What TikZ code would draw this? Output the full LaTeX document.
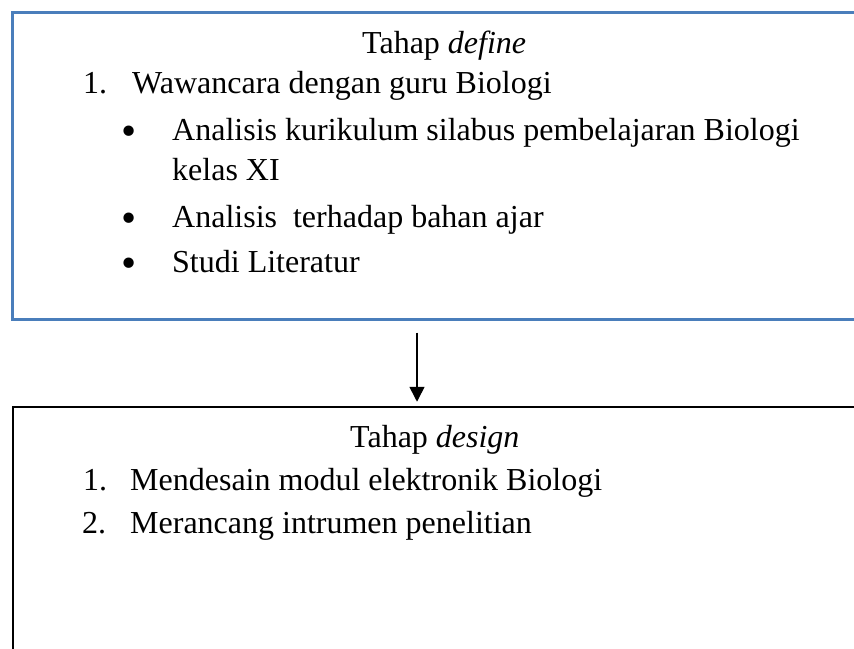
\documentclass[tikz,border=0pt]{standalone}
\usepackage{fontspec}
\setmainfont{Liberation Serif}
\usetikzlibrary{arrows.meta}
\definecolor{boxblue}{RGB}{74,126,187}
\newcommand{\bigbul}{\raisebox{-5.5pt}{\scalebox{1.35}{\textbullet}}}
\tikzset{
  stagebluebox/.style={draw=boxblue, line width=3pt, rectangle, inner sep=0pt},
  stageblackbox/.style={draw=black, line width=2.5pt, rectangle, inner sep=0pt},
  txt/.style={anchor=base west, inner sep=0pt, font=\fontsize{32}{40}\selectfont},
  flowarrow/.style={line width=1.6pt, -{Triangle[width=15pt,length=15pt]}}
}
\begin{document}
\begin{tikzpicture}[x=1pt,y=-1pt]
\clip (0,0) rectangle (854,648);
\fill[white] (0,0) rectangle (854,648);
% boxes
\node[stagebluebox, minimum width=868pt, minimum height=307pt] (define) at (446,165.5) {};
\node[stageblackbox, minimum width=846pt, minimum height=293pt] (design) at (436,553.5) {};
% define texts
\node[txt] (t1) at (362,53) {Tahap \textit{define}};
\node[txt] (n1) at (83,93) {1.};
\node[txt] (w1) at (132,93) {Wawancara dengan guru Biologi};
\node[txt] (b1) at (121,140) {\bigbul};
\node[txt] (a1) at (172,140) {Analisis kurikulum silabus pembelajaran Biologi};
\node[txt] (a1b) at (172,180) {kelas XI};
\node[txt] (b2) at (121,227) {\bigbul};
\node[txt] (a2) at (172,227) {Analisis\ \ terhadap bahan ajar};
\node[txt] (b3) at (121,272) {\bigbul};
\node[txt] (a3) at (172,272) {Studi Literatur};
% design texts
\node[txt] (t2) at (350,447) {Tahap \textit{design}};
\node[txt] (n2) at (83,490) {1.};
\node[txt] (m1) at (130,490) {Mendesain modul elektronik Biologi};
\node[txt] (n3) at (82,533) {2.};
\node[txt] (m2) at (130,533) {Merancang intrumen penelitian};
% arrow
\draw[flowarrow] ([xshift=-29pt,yshift=-12pt]define.south) -- ([xshift=-19pt,yshift=4pt]design.north);
\end{tikzpicture}
\end{document}
